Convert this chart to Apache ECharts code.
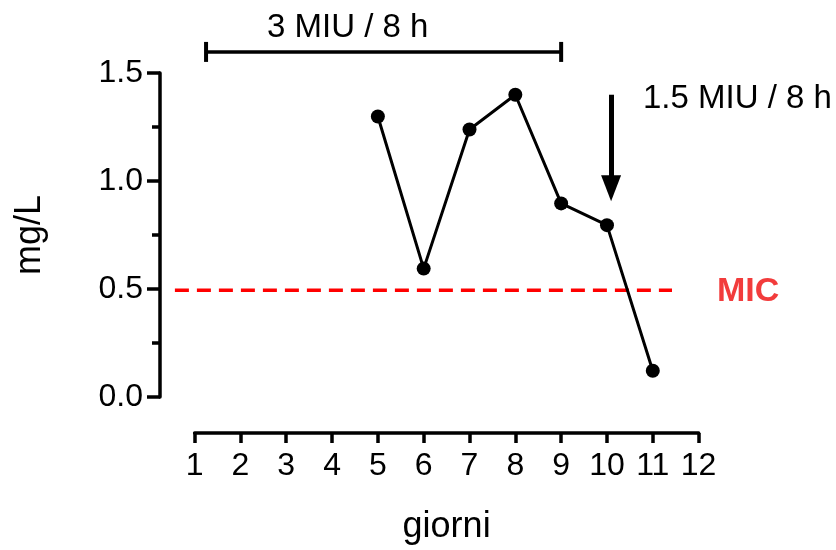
<!DOCTYPE html>
<html>
<head>
<meta charset="utf-8">
<script src="https://cdn.jsdelivr.net/npm/echarts@6/dist/echarts.min.js"></script>
<style>html,body{margin:0;padding:0;background:#fff}#c{width:836px;height:550px}</style>
</head>
<body>
<div id="c"></div>
<script>
// Data
var days = [5, 6, 7, 8, 9, 10, 11];
var conc = [1.3, 0.6, 1.24, 1.4, 0.9, 0.8, 0.13];
var xTicks = [1, 2, 3, 4, 5, 6, 7, 8, 9, 10, 11, 12];
var yTicks = [0, 0.5, 1.0, 1.5];
var micValue = 0.5;
var micRange = [0.57, 11.42];
var bracketDays = [1.25, 9];
var bracketLevel = 1.597;
var arrowDay = 10.09;
var arrowRange = [1.40, 0.97];

var FONT = 'Liberation Sans';
var PX_PER_X = 504 / 11;          // 1..12 spans 504px
var PX_PER_Y = 326 / 1.5;         // 0..1.5 spans 326px
var X_AXIS_LEFT = 194.6;
var Y_ZERO = 399;
// hidden data grid with same scale but wider extent
var dxMin = 0.25, dxMax = 12;
var dyMin = -0.5, dyMax = 1.8;
var dLeft = X_AXIS_LEFT - (1 - dxMin) * PX_PER_X;
var dTop = Y_ZERO - dyMax * PX_PER_Y;
var dHeight = (dyMax - dyMin) * PX_PER_Y;
var dWidth = (dxMax - dxMin) * PX_PER_X;

var chart = echarts.init(document.getElementById('c'), null, {renderer: 'canvas'});
var axisStyle = {color: '#000', width: 3.5};
chart.setOption({
  animation: false,
  backgroundColor: '#fff',
  textStyle: {fontFamily: FONT},
  grid: [
    {left: dLeft, top: dTop, width: dWidth, height: dHeight, containLabel: false},
    {left: X_AXIS_LEFT, top: Y_ZERO - 1.5 * PX_PER_Y, width: 11 * PX_PER_X, height: 1.5 * PX_PER_Y, containLabel: false}
  ],
  xAxis: [
    {gridIndex: 0, type: 'value', min: dxMin, max: dxMax, show: false},
    {gridIndex: 1, type: 'value', min: xTicks[0], max: xTicks[xTicks.length - 1], interval: 1,
     offset: 36,
     axisLine: {show: true, onZero: false, lineStyle: axisStyle},
     axisTick: {show: true, length: 10, inside: false, lineStyle: {color: '#000', width: 3.5}},
     splitLine: {show: false},
     axisLabel: {color: '#000', fontSize: 32, fontFamily: FONT, margin: 17},
     name: 'giorni', nameLocation: 'middle', nameGap: 76,
     nameTextStyle: {color: '#000', fontSize: 36, fontFamily: FONT}}
  ],
  yAxis: [
    {gridIndex: 0, type: 'value', min: dyMin, max: dyMax, show: false},
    {gridIndex: 1, type: 'value', min: yTicks[0], max: yTicks[yTicks.length - 1], interval: 0.5,
     offset: X_AXIS_LEFT - 160,
     axisLine: {show: true, onZero: false, lineStyle: axisStyle},
     axisTick: {show: true, length: 13, inside: false, lineStyle: {color: '#000', width: 3.5}},
     minorTick: {show: true, splitNumber: 2, length: 8, lineStyle: {color: '#000', width: 3.5}},
     splitLine: {show: false},
     axisLabel: {color: '#000', fontSize: 32, fontFamily: FONT, margin: 17,
                 formatter: function (v) { return v.toFixed(1); }},
     name: 'mg/L', nameLocation: 'middle', nameGap: 112, nameRotate: 90,
     nameTextStyle: {color: '#000', fontSize: 36, fontFamily: FONT}}
  ],
  series: [
    {
      type: 'line', xAxisIndex: 0, yAxisIndex: 0,
      data: days.map(function (d, i) { return [d, conc[i]]; }),
      symbol: 'circle', symbolSize: 14,
      lineStyle: {color: '#000', width: 3},
      itemStyle: {color: '#000'},
      z: 5
    },
    {
      type: 'line', xAxisIndex: 0, yAxisIndex: 0,
      data: [[micRange[0], micValue], [micRange[1], micValue]],
      symbol: 'none',
      lineStyle: {color: '#ff0000', width: 3.5, type: [14, 8]},
      z: 3
    },
    {
      type: 'line', xAxisIndex: 0, yAxisIndex: 0,
      data: [[bracketDays[0], bracketLevel], [bracketDays[1], bracketLevel]],
      symbol: 'rect', symbolSize: [4, 20], showAllSymbol: true,
      itemStyle: {color: '#000'},
      lineStyle: {color: '#000', width: 3.5},
      z: 4
    },
    {
      type: 'line', xAxisIndex: 0, yAxisIndex: 0,
      data: [[arrowDay, arrowRange[0]], [arrowDay, arrowRange[1]]],
      symbol: 'none',
      lineStyle: {color: '#000', width: 0},
      markLine: {
        silent: true, animation: false,
        symbol: ['none', 'triangle'], symbolSize: [20, 26], symbolRotate: 180,
        lineStyle: {color: '#000', width: 5, type: 'solid'},
        label: {show: false},
        data: [[{coord: [arrowDay, arrowRange[0]]}, {coord: [arrowDay, arrowRange[1]]}]]
      },
      z: 4
    }
  ],
  graphic: [
    {type: 'text', left: 267, top: 11, style: {text: '3 MIU / 8 h', fontSize: 33, fontFamily: FONT, fill: '#000'}},
    {type: 'text', left: 643, top: 82, style: {text: '1.5 MIU / 8 h', fontSize: 33, fontFamily: FONT, fill: '#000'}},
    {type: 'text', left: 717, top: 275, style: {text: 'MIC', fontSize: 34, fontWeight: 'bold', fontFamily: FONT, fill: '#f23c3c'}}
  ]
});
</script>
</body>
</html>
